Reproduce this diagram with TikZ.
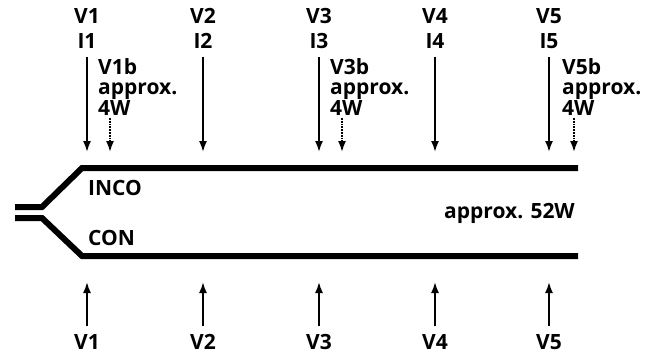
\documentclass[tikz,border=0pt]{standalone}
\usepackage{fontspec}
\setmainfont{Open Sans}
\usetikzlibrary{calc, arrows.meta}

\begin{document}
\begin{tikzpicture}[
	x=1pt, y=-1pt,
	lbl/.style={font=\fontsize{21}{20}\selectfont\bfseries, inner sep=2pt},
	note/.style={lbl, align=left, anchor=north west},
	bus/.style={line width=6pt, line join=miter},
	vec/.style={line width=1.8pt, -{Latex[length=11pt, width=8pt]}, shorten <=6pt},
	aux/.style={line width=1.8pt, -{Latex[length=11pt, width=8pt]}, densely dotted}
	]

	\def\yTop{168} % upper bus
	\def\yBot{256} % lower bus
	\def\xEnd{578} % right end of both buses
	\def\tipT{152} % tips of the upper arrows
	\def\tipB{282} % tips of the lower arrows

	\useasboundingbox (0,0) rectangle (649,354);

	% the two buses
	\draw[bus] (15,207) -- (42,207) -- (82,\yTop) -- (\xEnd,\yTop);
	\draw[bus] (15,218) -- (42,218) -- (82,\yBot) -- (\xEnd,\yBot);
	\node[lbl, anchor=west] (inco) at (86,188) {INCO};
	\node[lbl, anchor=west] (con) at (86,238) {CON};
	\node[lbl, anchor=east] (total) at (577,213) {approx. 52W};

	% measuring points on the upper bus
	\node[lbl] (v1) at (87,16) {V1};
	\node[lbl] (i1) at (87,41) {I1};
	\node[lbl] (v2) at (203,16) {V2};
	\node[lbl] (i2) at (203,41) {I2};
	\node[lbl] (v3) at (319,16) {V3};
	\node[lbl] (i3) at (319,41) {I3};
	\node[lbl] (v4) at (435,16) {V4};
	\node[lbl] (i4) at (435,41) {I4};
	\node[lbl] (v5) at (549,16) {V5};
	\node[lbl] (i5) at (549,41) {I5};

	\coordinate (t1) at (87,\tipT);
	\coordinate (t2) at (203,\tipT);
	\coordinate (t3) at (319,\tipT);
	\coordinate (t4) at (435,\tipT);
	\coordinate (t5) at (549,\tipT);
	\draw[vec] (i1) -- (t1);
	\draw[vec] (i2) -- (t2);
	\draw[vec] (i3) -- (t3);
	\draw[vec] (i4) -- (t4);
	\draw[vec] (i5) -- (t5);

	% the extra loads
	\node[note] (n1) at (96,56) {V1b\\approx.\\4W};
	\node[note] (n3) at (328,56) {V3b\\approx.\\4W};
	\node[note] (n5) at (560,56) {V5b\\approx.\\4W};
	\coordinate (s1) at (110,118);
	\coordinate (e1) at (110,\tipT);
	\coordinate (s3) at (342,118);
	\coordinate (e3) at (342,\tipT);
	\coordinate (s5) at (574,118);
	\coordinate (e5) at (574,\tipT);
	\draw[aux] (s1) -- (e1);
	\draw[aux] (s3) -- (e3);
	\draw[aux] (s5) -- (e5);

	% measuring points on the lower bus
	\node[lbl] (b1) at (87,342) {V1};
	\node[lbl] (b2) at (203,342) {V2};
	\node[lbl] (b3) at (319,342) {V3};
	\node[lbl] (b4) at (435,342) {V4};
	\node[lbl] (b5) at (549,342) {V5};
	\coordinate (u1) at (87,\tipB);
	\coordinate (u2) at (203,\tipB);
	\coordinate (u3) at (319,\tipB);
	\coordinate (u4) at (435,\tipB);
	\coordinate (u5) at (549,\tipB);
	\draw[vec] (b1) -- (u1);
	\draw[vec] (b2) -- (u2);
	\draw[vec] (b3) -- (u3);
	\draw[vec] (b4) -- (u4);
	\draw[vec] (b5) -- (u5);

\end{tikzpicture}
\end{document}
